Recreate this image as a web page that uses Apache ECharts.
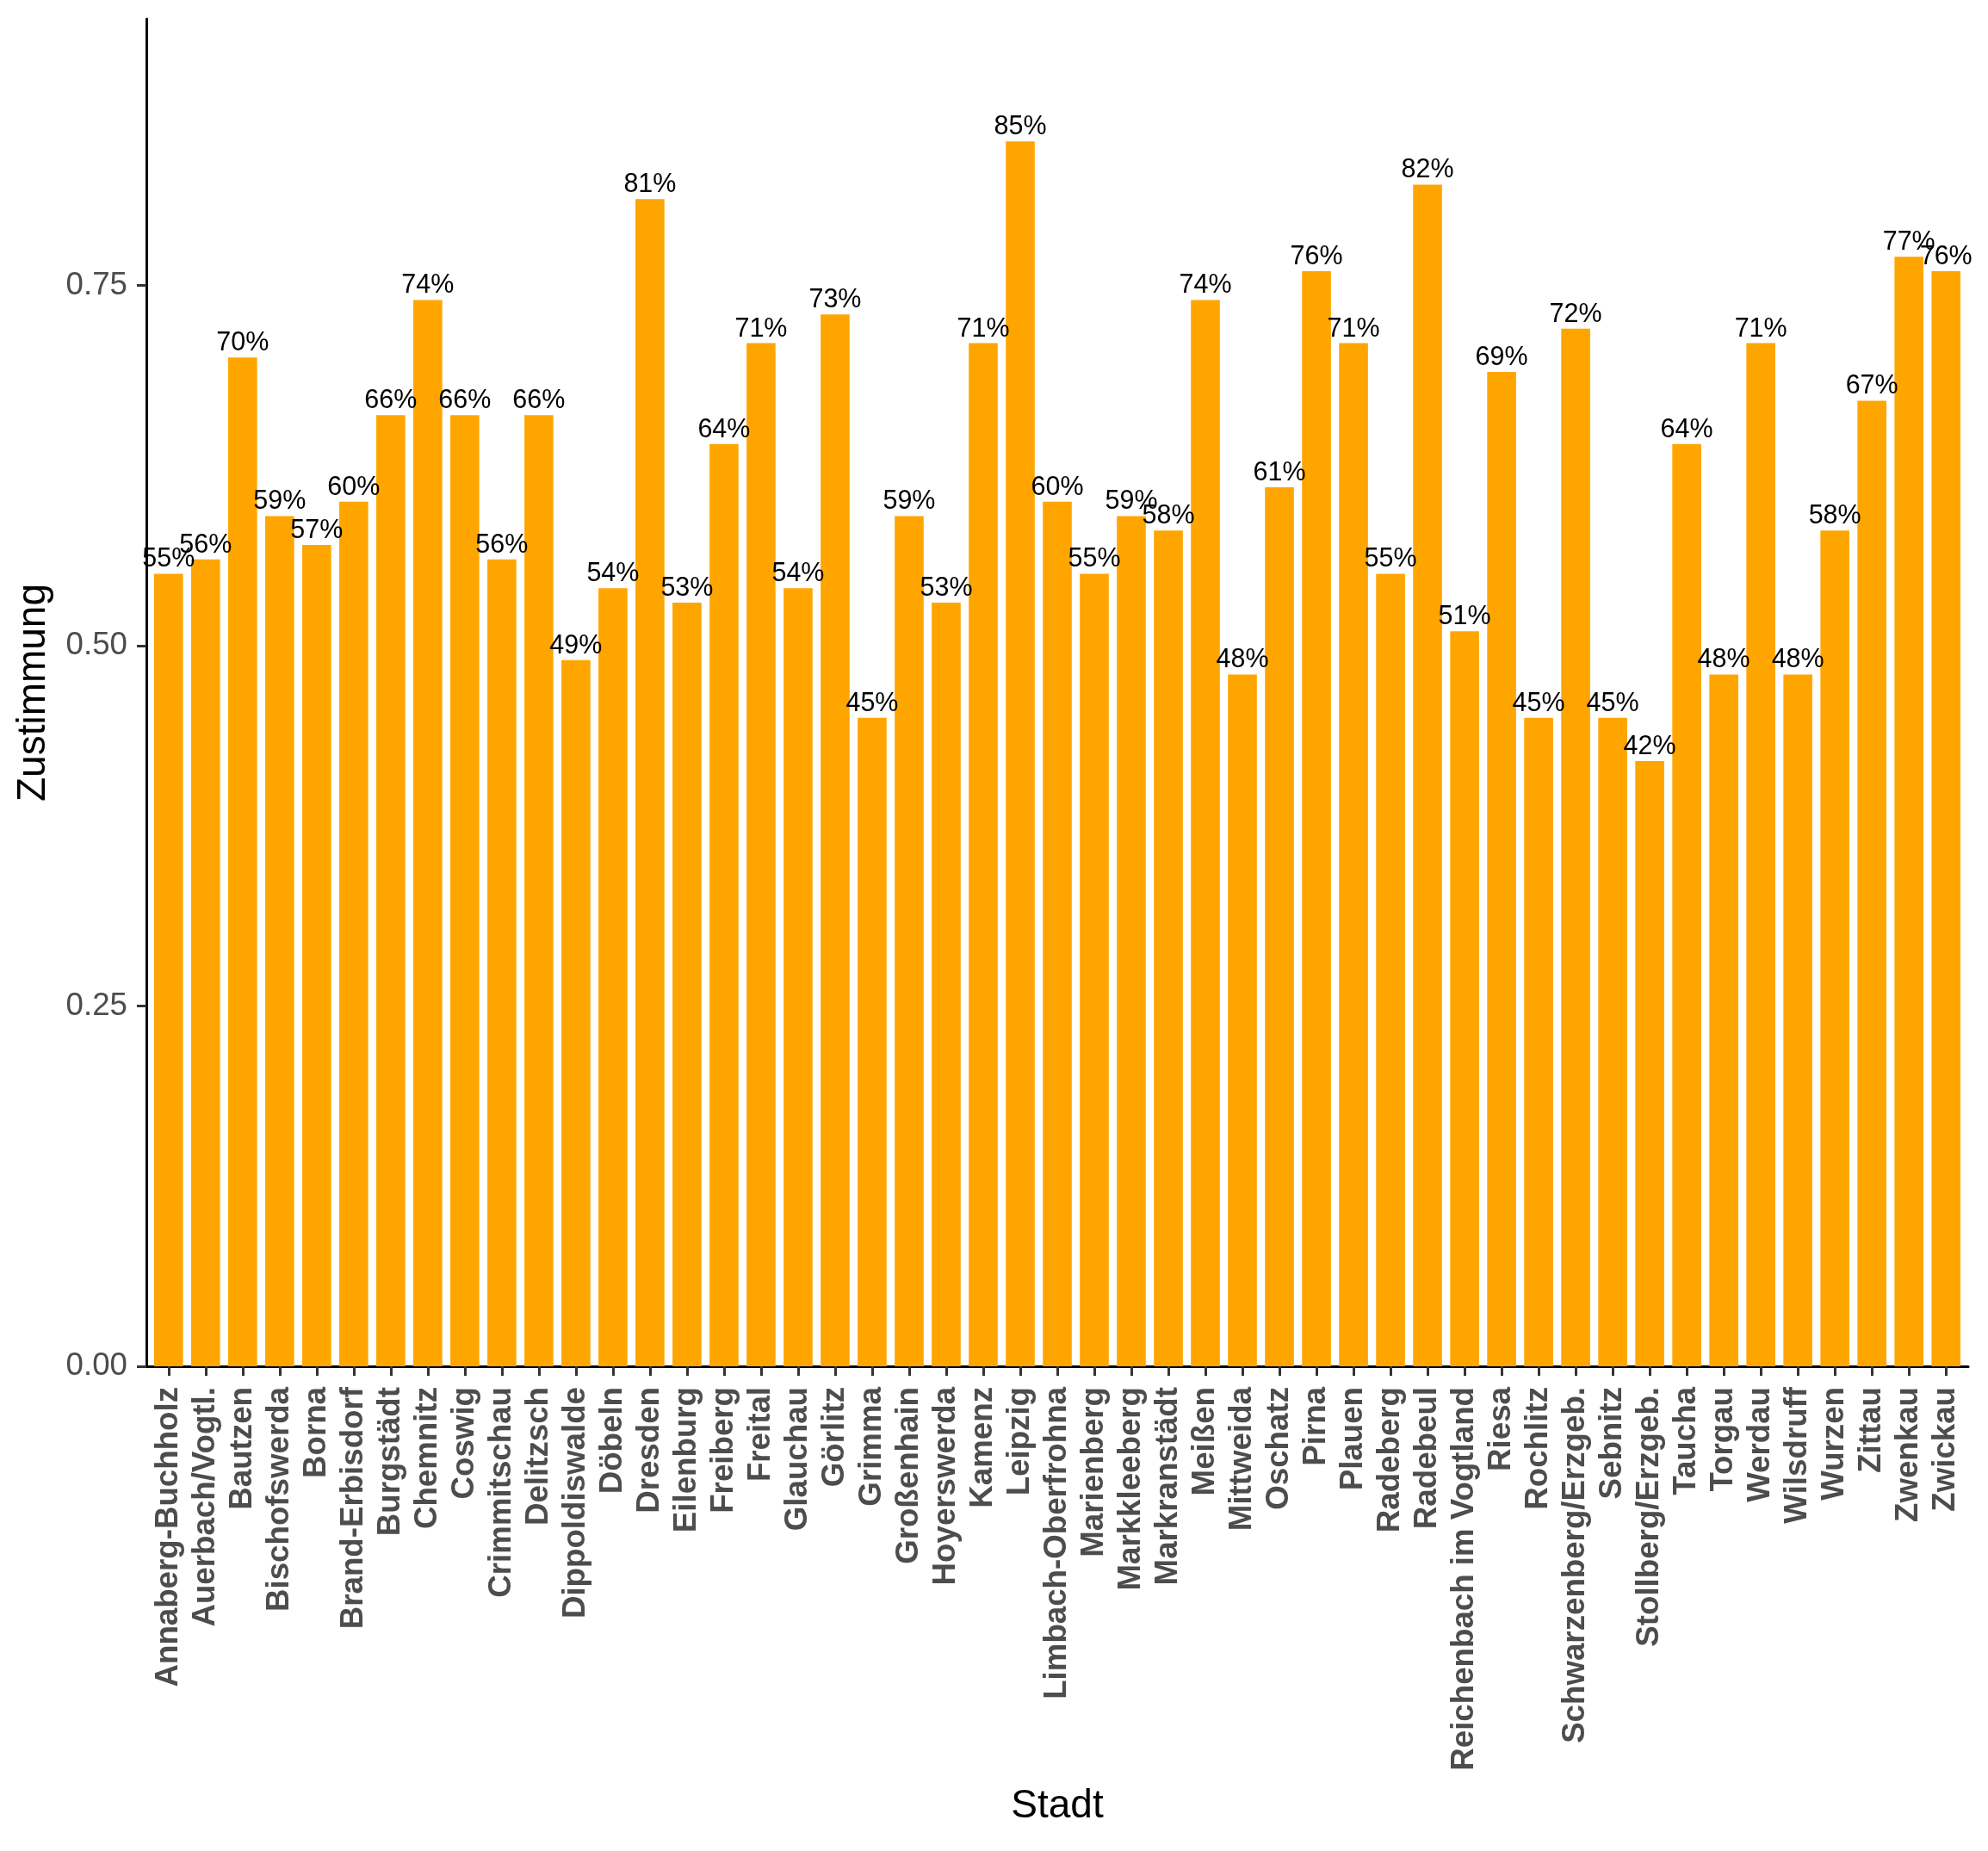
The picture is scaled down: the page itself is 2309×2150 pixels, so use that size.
<!DOCTYPE html>
<html>
<head>
<meta charset="utf-8">
<script src="https://cdn.jsdelivr.net/npm/echarts@6/dist/echarts.min.js"></script>
<style>
html,body{margin:0;padding:0;background:#fff;}
#chart{width:2309px;height:2150px;}
</style>
</head>
<body>
<div id="chart"></div>
<script>
const cities = ["Annaberg-Buchholz","Auerbach/Vogtl.","Bautzen","Bischofswerda","Borna","Brand-Erbisdorf","Burgstädt","Chemnitz","Coswig","Crimmitschau","Delitzsch","Dippoldiswalde","Döbeln","Dresden","Eilenburg","Freiberg","Freital","Glauchau","Görlitz","Grimma","Großenhain","Hoyerswerda","Kamenz","Leipzig","Limbach-Oberfrohna","Marienberg","Markkleeberg","Markranstädt","Meißen","Mittweida","Oschatz","Pirna","Plauen","Radeberg","Radebeul","Reichenbach im Vogtland","Riesa","Rochlitz","Schwarzenberg/Erzgeb.","Sebnitz","Stollberg/Erzgeb.","Taucha","Torgau","Werdau","Wilsdruff","Wurzen","Zittau","Zwenkau","Zwickau"];
const zustimmung = [0.55,0.56,0.70,0.59,0.57,0.60,0.66,0.74,0.66,0.56,0.66,0.49,0.54,0.81,0.53,0.64,0.71,0.54,0.73,0.45,0.59,0.53,0.71,0.85,0.60,0.55,0.59,0.58,0.74,0.48,0.61,0.76,0.71,0.55,0.82,0.51,0.69,0.45,0.72,0.45,0.42,0.64,0.48,0.71,0.48,0.58,0.67,0.77,0.76];
const yTicks = [0, 0.25, 0.5, 0.75];
const xTicks = cities.map((c, i) => i);

const FONT = "'Liberation Sans', Arial, sans-serif";
const chart = echarts.init(document.getElementById('chart'), null, {renderer: 'canvas'});
chart.setOption({
  animation: false,
  backgroundColor: '#ffffff',
  grid: {left: 170, right: 23, top: 22, bottom: 563, containLabel: false},
  xAxis: {
    type: 'value',
    min: -0.6,
    max: 48.6,
    name: 'Stadt',
    nameLocation: 'middle',
    nameGap: 488,
    nameTextStyle: {fontFamily: FONT, fontSize: 46, color: '#000000', verticalAlign: 'top'},
    axisLine: {show: true, onZero: false, lineStyle: {color: '#000000', width: 3}},
    axisTick: {show: true, customValues: xTicks, length: 11, lineStyle: {color: '#333333', width: 3}},
    splitLine: {show: false},
    axisLabel: {
      customValues: xTicks,
      rotate: 90,
      margin: 24,
      fontFamily: FONT,
      fontWeight: 'bold',
      fontSize: 36.7,
      color: '#4d4d4d',
      formatter: v => cities[Math.round(v)]
    }
  },
  yAxis: {
    type: 'value',
    min: 0,
    max: 0.935,
    name: 'Zustimmung',
    nameLocation: 'middle',
    nameRotate: 90,
    nameGap: 108,
    nameTextStyle: {fontFamily: FONT, fontSize: 46, color: '#000000'},
    axisLine: {show: true, onZero: false, lineStyle: {color: '#000000', width: 3}},
    axisTick: {show: true, customValues: yTicks, length: 11, lineStyle: {color: '#333333', width: 3}},
    splitLine: {show: false},
    axisLabel: {
      customValues: yTicks,
      margin: 22,
      fontFamily: FONT,
      fontSize: 36.7,
      color: '#4d4d4d',
      formatter: v => v.toFixed(2)
    }
  },
  series: [{
    type: 'bar',
    data: zustimmung.map((v, i) => [i, v]),
    barWidth: 33.6,
    itemStyle: {color: '#FFA500'},
    label: {
      show: true,
      position: 'top',
      distance: 1,
      fontFamily: FONT,
      fontSize: 30.5,
      color: '#000000',
      formatter: p => Math.round(p.value[1] * 100) + '%'
    }
  }]
});
</script>
</body>
</html>
